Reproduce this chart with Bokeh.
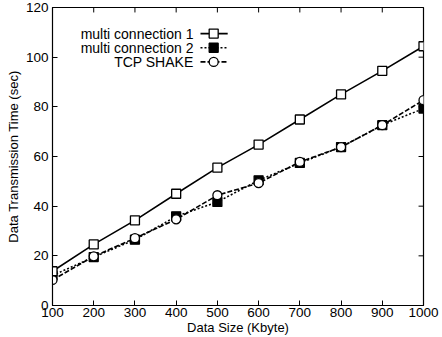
from bokeh.plotting import figure
from bokeh.models import Range1d, FixedTicker, Label
from bokeh.embed import file_html
from bokeh.resources import INLINE

sizes = [100, 200, 300, 400, 500, 600, 700, 800, 900, 1000]
multi1 = [13.8, 24.6, 34.3, 45.0, 55.5, 64.8, 74.9, 85.0, 94.5, 104.4]
multi2 = [12.1, 19.5, 26.5, 35.9, 41.7, 50.4, 57.4, 63.8, 72.6, 79.3]
shake = [10.3, 19.8, 27.1, 34.7, 44.4, 49.3, 57.8, 63.8, 72.6, 82.7]
names = ["multi connection 1", "multi connection 2", "TCP SHAKE"]
x_ticks = [100, 200, 300, 400, 500, 600, 700, 800, 900, 1000]
y_ticks = [0, 20, 40, 60, 80, 100, 120]

FONT = "Liberation Sans"
X0, X1, Y0, Y1 = 100, 1000, 0, 120

p = figure(width=442, height=337, output_backend="svg", toolbar_location=None,
           x_range=Range1d(X0, X1), y_range=Range1d(Y0, Y1),
           min_border_left=52, min_border_right=19, min_border_top=7, min_border_bottom=32)
p.xgrid.visible = False
p.ygrid.visible = False
p.outline_line_color = "black"
p.outline_line_width = 1.2
p.background_fill_color = "white"
p.border_fill_color = "white"

for ax in (p.xaxis[0], p.yaxis[0]):
    ax.major_tick_in = 5
    ax.major_tick_out = 0
    ax.minor_tick_in = 0
    ax.minor_tick_out = 0
    ax.axis_line_color = "black"
    ax.major_label_text_font = FONT
    ax.major_label_text_font_size = "13.5px"
    ax.major_label_text_color = "black"
    ax.axis_label_text_font = FONT
    ax.axis_label_text_font_size = "13px"
    ax.axis_label_text_font_style = "normal"
    ax.axis_label_text_color = "black"

p.xaxis.ticker = FixedTicker(ticks=x_ticks)
p.yaxis.ticker = FixedTicker(ticks=y_ticks)
p.xaxis.axis_label = "Data Size (Kbyte)"
p.yaxis.axis_label = "Data Transmission Time (sec)"
p.xaxis.major_label_standoff = 2
p.xaxis.axis_label_standoff = 0
p.yaxis.major_label_standoff = 4
p.yaxis.axis_label_standoff = 2

# inward ticks on right and top edges (mirror of the axes)
tick_dx = 12.0   # ~5 px in x data units
tick_dy = 2.0    # ~5 px in y data units
p.segment(x0=[X1] * len(y_ticks), y0=y_ticks, x1=[X1 - tick_dx] * len(y_ticks), y1=y_ticks,
          line_color="black", line_width=1)
p.segment(x0=x_ticks, y0=[Y1] * len(x_ticks), x1=x_ticks, y1=[Y1 - tick_dy] * len(x_ticks),
          line_color="black", line_width=1)

# series
p.line(sizes, multi1, line_color="black", line_width=1.6)
p.line(sizes, multi2, line_color="black", line_width=1.6, line_dash="2 2")
p.line(sizes, shake, line_color="black", line_width=1.6, line_dash="5 2")
p.scatter(sizes, multi2, marker="square", size=9, fill_color="black", line_color="black", line_width=1.3)
p.scatter(sizes, shake, marker="circle", size=9, fill_color="white", line_color="black", line_width=1.3)
p.scatter(sizes, multi1, marker="square", size=9, fill_color="white", line_color="black", line_width=1.3)

# legend (label right-aligned, sample on the right)
leg_y = [109.5, 103.8, 98.1]
styles = [("square", "white", None), ("square", "black", "2 2"), ("circle", "white", "5 2")]
for name, yy, (mk, fc, dash) in zip(names, leg_y, styles):
    p.add_layout(Label(x=442, y=yy, text=name, text_align="right", text_baseline="middle",
                       text_font=FONT, text_font_size="14px", text_color="black"))
    kw = dict(line_color="black", line_width=1.6)
    if dash:
        kw["line_dash"] = dash
    p.line([459, 525], [yy, yy], **kw)
    p.scatter([491], [yy], marker=mk, size=9, fill_color=fc, line_color="black", line_width=1.3)

open("out.html", "w").write(file_html(p, INLINE))
